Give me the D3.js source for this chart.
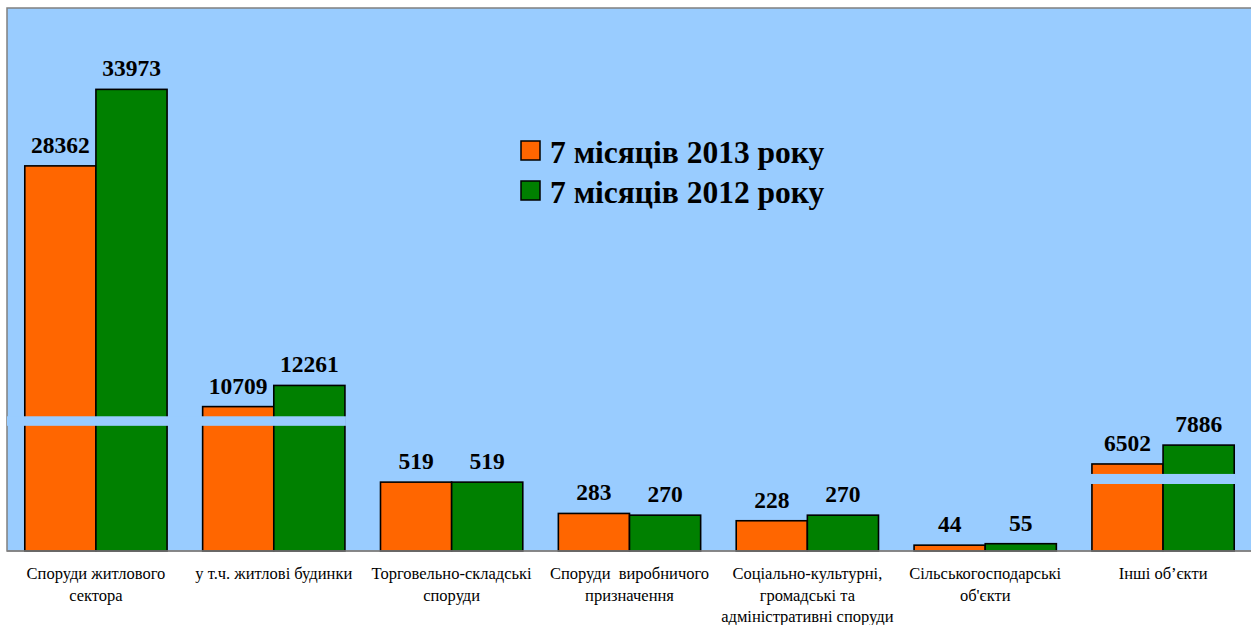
<!DOCTYPE html>
<html>
<head>
<meta charset="utf-8">
<script src="https://cdn.jsdelivr.net/npm/d3@7"></script>
<style>
  body { margin: 0; background: #fff; }
</style>
</head>
<body>
<script>
// categories (each split in lines as on the chart)
const categories = [
    ['Споруди житлового', 'сектора'],
    ['у т.ч. житлові будинки'],
    ['Торговельно-складські', 'споруди'],
    ['Споруди  виробничого', 'призначення'],
    ['Соціально-культурні,', 'громадські та', 'адміністративні споруди'],
    ['Сільськогосподарські', 'об\'єкти'],
    ['Інші об’єкти']
];
const series = ['7 місяців 2013 року', '7 місяців 2012 року'];
const values2013 = [28362, 10709, 519, 283, 228, 44, 6502];
const values2012 = [33973, 12261, 519, 270, 270, 55, 7886];
const colors = ['#FF6600', '#008000'];

// broken axis pieces (value ranges hidden by the stripe)
const breaks = [
    { groups: [0, 1], from: 9300, to: 10000 },
    { groups: [6], from: 505, to: 3200 }
];

const width = 1251, height = 625;
const plotLeft = 7, plotTop = 8, plotRight = 1252, plotBottom = 551;
const serif = "'Liberation Serif', 'Times New Roman', Times, 'DejaVu Serif', serif";

const svg = d3.select('body').append('svg')
    .attr('width', width)
    .attr('height', height)
    .style('font-family', serif);

// plot area
svg.append('rect')
    .attr('x', plotLeft).attr('y', plotTop)
    .attr('width', plotRight - plotLeft).attr('height', plotBottom - plotTop)
    .attr('fill', '#99CCFF')
    .attr('stroke', '#808080')
    .attr('stroke-width', 1.5);

const x = d3.scaleBand()
    .domain(d3.range(categories.length))
    .range([plotLeft, plotRight]);

const xs = d3.scaleBand()
    .domain([0, 1])
    .range([0, x.bandwidth()])
    .paddingOuter(0.25);

// the axis is broken: small values get a stretched scale
const y = d3.scaleLinear()
    .domain([0, 520, 6500, 34000])
    .range([plotBottom, 482, 464, 89]);

const data = [];
values2013.forEach((v, i) => data.push({ i: i, s: 0, v: v }));
values2012.forEach((v, i) => data.push({ i: i, s: 1, v: v }));

svg.selectAll('rect.bar')
    .data(data)
    .enter()
  .append('rect')
    .attr('class', 'bar')
    .attr('x', d => x(d.i) + xs(d.s))
    .attr('y', d => y(d.v))
    .attr('width', xs.bandwidth())
    .attr('height', d => plotBottom - y(d.v))
    .attr('fill', d => colors[d.s])
    .attr('stroke', '#000')
    .attr('stroke-width', 1.6);

// break stripes
breaks.forEach(b => {
    const g0 = d3.min(b.groups), g1 = d3.max(b.groups);
    let x0 = x(g0) + xs(0) - 1;
    if (g0 === 0) x0 = plotLeft;
    const x1 = x(g1) + xs(1) + xs.bandwidth() + 1;
    svg.append('rect')
        .attr('x', x0)
        .attr('y', y(b.to))
        .attr('width', x1 - x0)
        .attr('height', y(b.from) - y(b.to))
        .attr('fill', '#99CCFF');
});

// baseline
svg.append('line')
    .attr('x1', plotLeft).attr('x2', plotRight)
    .attr('y1', plotBottom).attr('y2', plotBottom)
    .attr('stroke', '#808080')
    .attr('stroke-width', 1.5);

// value labels
svg.selectAll('text.val')
    .data(data)
    .enter()
  .append('text')
    .attr('class', 'val')
    .attr('x', d => x(d.i) + xs(d.s) + xs.bandwidth() / 2)
    .attr('y', d => y(d.v) - 13)
    .attr('text-anchor', 'middle')
    .attr('font-size', 23.5)
    .attr('font-weight', 'bold')
    .text(d => d.v);

// category labels
const cat = svg.selectAll('text.cat')
    .data(categories)
    .enter()
  .append('text')
    .attr('class', 'cat')
    .attr('text-anchor', 'middle')
    .attr('font-size', 16.5)
    .attr('fill', '#000');

cat.selectAll('tspan')
    .data((d, i) => d.map(t => ({ t: t, i: i })))
    .enter()
  .append('tspan')
    .attr('x', d => x(d.i) + x.bandwidth() / 2)
    .attr('y', (d, j) => 579 + j * 21.5)
    .style('white-space', 'pre')
    .text(d => d.t);

// legend
const legend = svg.selectAll('g.legend')
    .data(series)
    .enter()
  .append('g')
    .attr('class', 'legend')
    .attr('transform', (d, i) => 'translate(521,' + (141 + i * 40) + ')');

legend.append('rect')
    .attr('width', 19).attr('height', 19)
    .attr('fill', (d, i) => colors[i])
    .attr('stroke', '#000')
    .attr('stroke-width', 1.5);

legend.append('text')
    .attr('x', 29)
    .attr('y', 22)
    .attr('font-size', 31.5)
    .attr('font-weight', 'bold')
    .text(d => d);
</script>
</body>
</html>
